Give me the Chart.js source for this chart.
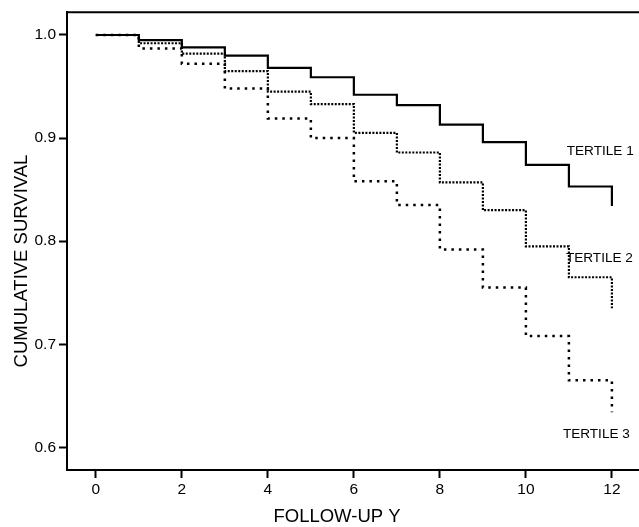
<!DOCTYPE html>
<html>
<head>
<meta charset="utf-8">
<title>Cumulative survival by tertile</title>
<script src="https://cdn.jsdelivr.net/npm/chart.js@4/dist/chart.umd.min.js"></script>
<style>
  body { margin: 0; background: #fff; }
  #wrap { width: 639px; height: 527px; }
</style>
</head>
<body>
<div id="wrap"><canvas id="survivalChart" width="639" height="527"></canvas></div>
<script>
// data

const years = [0, 1, 2, 3, 4, 5, 6, 7, 8, 9, 10, 11, 12];
const tertile1 = [1.0, 0.995, 0.988, 0.980, 0.968, 0.959, 0.942, 0.932, 0.913, 0.896, 0.874, 0.853, 0.834];
const tertile2 = [1.0, 0.992, 0.982, 0.965, 0.945, 0.933, 0.905, 0.886, 0.857, 0.830, 0.795, 0.765, 0.735];
const tertile3 = [1.0, 0.987, 0.972, 0.948, 0.919, 0.900, 0.858, 0.835, 0.792, 0.755, 0.708, 0.665, 0.634];
const seriesNames = ['TERTILE 1', 'TERTILE 2', 'TERTILE 3'];

const xTicks = [0, 2, 4, 6, 8, 10, 12];
const yTicks = [0.6, 0.7, 0.8, 0.9, 1.0];
const xTitle = 'FOLLOW-UP Y';
const yTitle = 'CUMULATIVE SURVIVAL';

const FONT = '"Liberation Sans", Arial, Helvetica, sans-serif';

const toPoints = (vals) => years.map((t, i) => ({ x: t, y: vals[i] }));

// where the series names sit, in data units
const labelSpots = [
    { x: 10.95, y: 0.887 },
    { x: 10.93, y: 0.783 },
    { x: 10.86, y: 0.613 }
];

// draws top frame line, series names and both axis titles
const annotate = {
    id: 'annotate',
    afterDraw(chart) {
        const c = chart.ctx;
        const area = chart.chartArea;
        const xs = chart.scales.x;
        const ys = chart.scales.y;
        c.save();
        c.strokeStyle = '#000';
        c.lineWidth = 2;
        c.beginPath();
        c.moveTo(area.left - 1, area.top);
        c.lineTo(area.right, area.top);
        c.stroke();

        c.fillStyle = '#000';
        c.font = '13.6px ' + FONT;
        c.textAlign = 'left';
        c.textBaseline = 'middle';
        seriesNames.forEach((name, i) => {
            c.fillText(name, xs.getPixelForValue(labelSpots[i].x), ys.getPixelForValue(labelSpots[i].y));
        });

        c.font = '18.5px ' + FONT;
        c.textAlign = 'center';
        c.fillText(xTitle, 337, 517);
        c.translate(22, 261);
        c.rotate(-Math.PI / 2);
        c.fillText(yTitle, 0, 0);
        c.restore();
    }
};

const ctx = document.getElementById('survivalChart').getContext('2d');

new Chart(ctx, {
    type: 'line',
    data: {
        datasets: [
            {
                label: seriesNames[0],
                data: toPoints(tertile1),
                borderColor: '#000',
                borderWidth: 2.2,
                stepped: 'before'
            },
            {
                label: seriesNames[1],
                data: toPoints(tertile2),
                borderColor: '#000',
                borderWidth: 2.2,
                borderDash: [2, 1.5],
                stepped: 'before'
            },
            {
                label: seriesNames[2],
                data: toPoints(tertile3),
                borderColor: '#000',
                borderWidth: 2.5,
                borderDash: [2.5, 5],
                stepped: 'before'
            }
        ]
    },
    options: {
        responsive: false,
        animation: false,
        events: [],
        layout: { padding: { top: 12, right: 0, bottom: 0, left: 0 } },
        elements: { point: { radius: 0 } },
        plugins: {
            legend: { display: false },
            tooltip: { enabled: false }
        },
        scales: {
            x: {
                type: 'linear',
                min: -0.67,
                max: 12.63,
                afterFit: (s) => { s.height = 57; },
                afterBuildTicks: (s) => { s.ticks = xTicks.map(v => ({ value: v })); },
                border: { display: true, color: '#000', width: 2 },
                grid: {
                    drawOnChartArea: false,
                    drawTicks: true,
                    tickLength: 8,
                    tickWidth: 2,
                    tickColor: '#000'
                },
                ticks: {
                    color: '#000',
                    padding: 2,
                    maxRotation: 0,
                    font: { family: FONT, size: 15.5 },
                    callback: (v) => String(v)
                }
            },
            y: {
                type: 'linear',
                min: 0.578,
                max: 1.022,
                afterFit: (s) => { s.width = 67; },
                afterBuildTicks: (s) => { s.ticks = yTicks.map(v => ({ value: v })); },
                border: { display: true, color: '#000', width: 2 },
                grid: {
                    drawOnChartArea: false,
                    drawTicks: true,
                    tickLength: 8,
                    tickWidth: 2,
                    tickColor: '#000'
                },
                ticks: {
                    color: '#000',
                    padding: 3,
                    font: { family: FONT, size: 15.5 },
                    callback: (v) => Number(v).toFixed(1)
                }
            }
        }
    },
    plugins: [annotate]
});
</script>
</body>
</html>
